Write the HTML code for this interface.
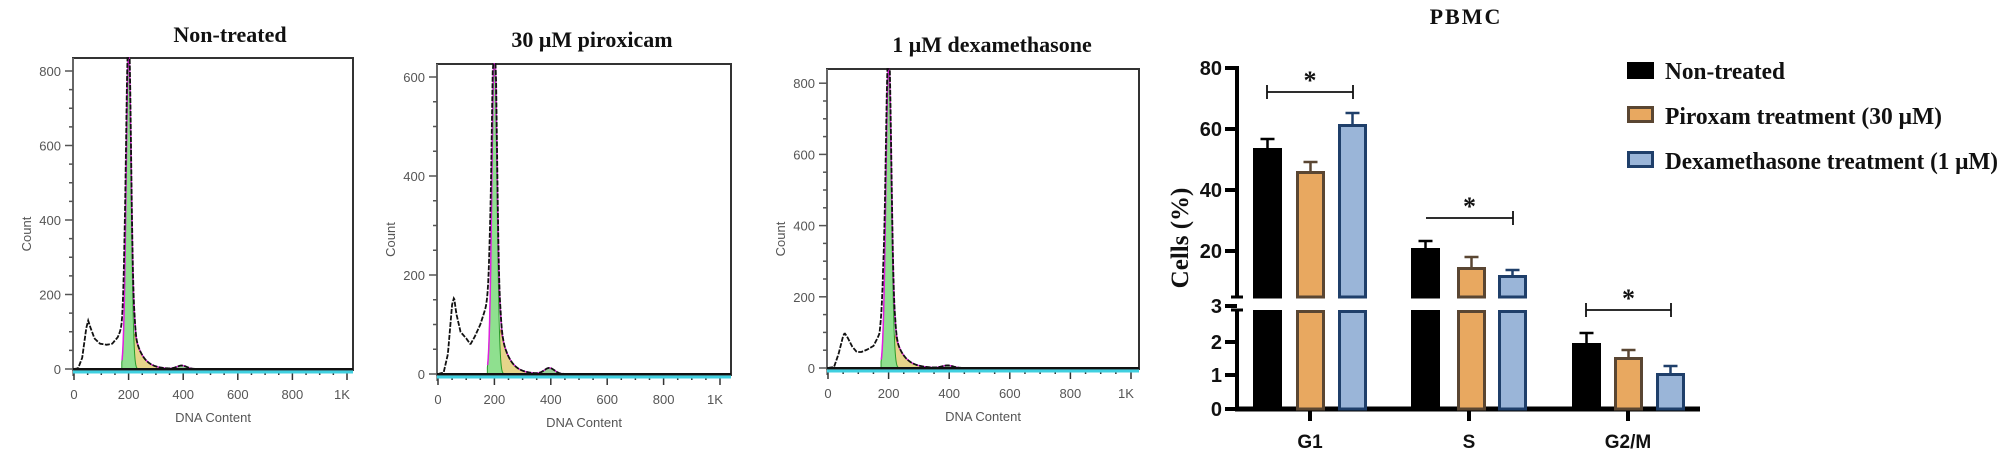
<!DOCTYPE html>
<html><head><meta charset="utf-8"><style>
html,body{margin:0;padding:0;background:#fff;}
svg{display:block;}
.t{font-family:"Liberation Serif",serif;font-weight:bold;fill:#111;}
.h{font-family:"Liberation Sans",sans-serif;fill:#555;font-size:13px;}
.b{font-family:"Liberation Sans",sans-serif;font-weight:bold;fill:#111;}
</style></head><body>
<svg id="s" width="2001" height="458" xmlns="http://www.w3.org/2000/svg">
<text class="t" x="230" y="42" font-size="22" text-anchor="middle">Non-treated</text>
<text class="t" x="592" y="47" font-size="22" text-anchor="middle">30 μM piroxicam</text>
<text class="t" x="992" y="52" font-size="22" text-anchor="middle">1 μM dexamethasone</text>
<g id="hists"></g>
<text class="t" x="1466" y="24" font-size="22" text-anchor="middle" letter-spacing="2">PBMC</text>
<text class="t" x="0" y="0" font-size="25" text-anchor="middle" transform="translate(1188,238) rotate(-90)">Cells (%)</text>
<g id="bars"></g>
<g>
<rect x="1627" y="62" width="27" height="17" fill="#000"/>
<rect x="1628.5" y="107.5" width="24" height="14" fill="#e8a860" stroke="#5a4632" stroke-width="3"/>
<rect x="1628.5" y="152.5" width="24" height="14" fill="#9ab5d8" stroke="#1f3f6a" stroke-width="3"/>
<text class="t" x="1665" y="79" font-size="24" textLength="120" lengthAdjust="spacingAndGlyphs">Non-treated</text>
<text class="t" x="1665" y="124" font-size="24" textLength="277" lengthAdjust="spacingAndGlyphs">Piroxam treatment (30 μM)</text>
<text class="t" x="1665" y="169" font-size="24" textLength="333" lengthAdjust="spacingAndGlyphs">Dexamethasone treatment (1 μM)</text>
</g>
</svg>
<script>
var NS="http://www.w3.org/2000/svg";
function el(p,tag,a,txt){var e=document.createElementNS(NS,tag);for(var k in a)e.setAttribute(k,a[k]);if(txt!=null)e.textContent=txt;p.appendChild(e);return e;}
var H=document.getElementById('hists');
function interp(pts,x){if(x<=pts[0][0])return pts[0][1];for(var i=1;i<pts.length;i++){if(x<=pts[i][0]){var a=pts[i-1],b=pts[i];return a[1]+(b[1]-a[1])*(x-a[0])/(b[0]-a[0]);}}return pts[pts.length-1][1];}
function hist(o){
 var L=o.L,R=o.R,T=o.T,B=o.B,y0=o.y0,k=o.k;
 var X=function(v){return o.x0+(v/1000)*(o.x1000-o.x0);};
 var Y=function(c){return y0-c*k;};
 function g(x,m,s){return Math.exp(-(x-m)*(x-m)/(2*s*s));}
 function G1(x){return o.pk*g(x,200,9);}
 function S(x){return x<188?0:o.sh*Math.exp(-Math.max(0,x-222)/30)*(x<222?(x-188)/34:1);}
 function G2(x){return o.g2*g(x,395,18);}
 function deb(x){return interp(o.deb,x);}
 function tot(x){return deb(x)+G1(x)+S(x)+G2(x);}
 el(H,'rect',{x:L,y:T,width:R-L,height:B-T,fill:'none',stroke:'#333','stroke-width':2});
 el(H,'line',{x1:L,y1:T,x2:L,y2:B+6,stroke:'#777','stroke-width':1.5});
 for(var c=0;c<=o.ymax;c+=o.ystep/4){var yy=Y(c);if(yy<T)break;var major=(Math.round(c)%o.ystep==0);
  el(H,'line',{x1:L-(major?8:4),y1:yy,x2:L,y2:yy,stroke:'#555','stroke-width':1.5});
  if(major)el(H,'text',{class:'h',x:L-12,y:yy+5,'text-anchor':'end'},String(c));}
 for(var v=0;v<=1000;v+=50){var xx=X(v);var major=(v%200==0);
  el(H,'line',{x1:xx,y1:B,x2:xx,y2:B+(major?10:5),stroke:'#333','stroke-width':1.5});
  if(major)el(H,'text',{class:'h',x:xx+(v==1000?-5:0),y:B+29,'text-anchor':'middle'},v==1000?'1K':String(v));}
 el(H,'text',{class:'h',x:(L+R)/2,y:B+52,'text-anchor':'middle'},'DNA Content');
 el(H,'text',{class:'h',x:0,y:0,'text-anchor':'middle',transform:'translate('+(L-42)+','+((T+B)/2+20)+') rotate(-90)'},'Count');
 var p='M'+X(175)+','+Y(0);for(var x=175;x<=240;x+=1)p+=' L'+X(x)+','+Math.max(T,Y(G1(x)));p+=' L'+X(240)+','+Y(0)+'Z';
 var s='M'+X(188)+','+Y(0);for(var x=188;x<=340;x+=2)s+=' L'+X(x)+','+Y(S(x));s+=' L'+X(340)+','+Y(0)+'Z';
 el(H,'path',{d:s,fill:'#e6d58a',stroke:'#b08a3a','stroke-width':1});
 el(H,'path',{d:p,fill:'#8fe08f',stroke:'#2a9a2a','stroke-width':1});
 var g2='M'+X(340)+','+Y(0);for(var x=340;x<=440;x+=2)g2+=' L'+X(x)+','+Y(G2(x));g2+=' L'+X(440)+','+Y(0)+'Z';
 el(H,'path',{d:g2,fill:'#9ad09a'});
 var m='';for(var x=176;x<=440;x+=1){m+=(x==176?'M':' L')+X(x)+','+Math.max(T,Y(G1(x)+S(x)+G2(x)));}
 el(H,'path',{d:m,fill:'none',stroke:'#e020e0','stroke-width':1.5});
 var d='';for(var x=0;x<=1020;x+=2){var yy=Math.max(T,Y(tot(x)));d+=(x==0?'M':' L')+X(x)+','+yy;}
 el(H,'path',{d:d,fill:'none',stroke:'#111','stroke-width':1.8,'stroke-dasharray':'5,1.5'});
 el(H,'line',{x1:L,y1:B-1,x2:R,y2:B-1,stroke:'#111','stroke-width':2});
 el(H,'line',{x1:L,y1:B+2,x2:R,y2:B+2,stroke:'#40d0e0','stroke-width':3});
}
hist({L:73,R:353,T:58,B:370,y0:369,k:0.3725,x0:74,x1000:347,ymax:800,ystep:200,pk:830,sh:95,g2:9,
 deb:[[0,0],[15,2],[30,30],[45,110],[52,130],[60,112],[75,82],[95,68],[120,65],[140,68],[160,85],[175,110],[185,150],[197,70],[212,15],[230,0]]});
hist({L:437,R:731,T:64,B:375,y0:374,k:0.495,x0:438,x1000:720,ymax:600,ystep:200,pk:630,sh:90,g2:12,
 deb:[[0,0],[20,3],[35,40],[50,140],[57,155],[65,122],[80,85],[100,72],[115,60],[130,75],[150,100],[170,135],[183,165],[197,70],[215,10],[235,0]]});
hist({L:827,R:1139,T:69,B:369,y0:368,k:0.356,x0:828,x1000:1131,ymax:800,ystep:200,pk:830,sh:90,g2:7,
 deb:[[0,0],[20,3],[35,40],[50,90],[55,98],[65,85],[80,60],[95,45],[110,45],[130,52],[150,62],[170,95],[182,170],[196,75],[214,10],[232,0]]});

var Bg=document.getElementById('bars');
var AX=1237,BASE=409,BT=297,BB=310;
el(Bg,'line',{x1:AX,y1:66,x2:AX,y2:BT,stroke:'#000','stroke-width':4});
el(Bg,'line',{x1:AX,y1:BB,x2:AX,y2:BASE+2,stroke:'#000','stroke-width':4});
el(Bg,'line',{x1:AX-6,y1:BT,x2:AX+6,y2:BT,stroke:'#000','stroke-width':3});
el(Bg,'line',{x1:AX-6,y1:BB,x2:AX+6,y2:BB,stroke:'#000','stroke-width':3});
el(Bg,'line',{x1:AX-2,y1:BASE,x2:1700,y2:BASE,stroke:'#000','stroke-width':5});
var yt=[[80,68],[60,129],[40,190],[20,251],[3,306],[2,342],[1,375],[0,409]];
yt.forEach(function(t){el(Bg,'line',{x1:AX-12,y1:t[1],x2:AX,y2:t[1],stroke:'#000','stroke-width':4});
 el(Bg,'text',{class:'b',x:AX-15,y:t[1]+7,'text-anchor':'end','font-size':20},String(t[0]));});
[[1310,'G1'],[1469,'S'],[1628,'G2/M']].forEach(function(t){el(Bg,'line',{x1:t[0],y1:BASE,x2:t[0],y2:BASE+12,stroke:'#000','stroke-width':4});
 el(Bg,'text',{class:'b',x:t[0],y:448,'text-anchor':'middle','font-size':19},t[1]);});
var sty=[{f:'#000',s:'#000'},{f:'#e8a860',s:'#5a4632'},{f:'#9ab5d8',s:'#1f3f6a'}];
var bars=[[1253,148,139,0],[1296,171,162,1],[1338,124,113,2],
 [1411,248,241,0],[1457,267,257,1],[1498,275,270,2],
 [1572,343,333,0],[1614,357,350,1],[1656,373,366,2]];
bars.forEach(function(b){var st=sty[b[3]];var w=29;
 el(Bg,'line',{x1:b[0]+w/2,y1:b[1],x2:b[0]+w/2,y2:b[2],stroke:st.s,'stroke-width':2.5});
 el(Bg,'line',{x1:b[0]+w/2-7,y1:b[2],x2:b[0]+w/2+7,y2:b[2],stroke:st.s,'stroke-width':2.5});
 function seg(y1,y2){if(y2<=y1)return;el(Bg,'rect',{x:b[0]+1.5,y:y1+1.5,width:w-3,height:y2-y1-1.5,fill:st.f,stroke:st.s,'stroke-width':3});}
 if(b[1]<BT){seg(b[1],BT);seg(BB,BASE);}else seg(b[1],BASE);
});
function sig(x1,x2,y,lt){el(Bg,'line',{x1:x1,y1:y,x2:x2,y2:y,stroke:'#111','stroke-width':1.8});
 el(Bg,'line',{x1:x2,y1:y-7,x2:x2,y2:y+7,stroke:'#111','stroke-width':1.8});
 if(lt)el(Bg,'line',{x1:x1,y1:y-7,x2:x1,y2:y+7,stroke:'#111','stroke-width':1.8});
 el(Bg,'text',{class:'t',x:(x1+x2)/2,y:y-3,'text-anchor':'middle','font-size':26},'*');}
sig(1267,1353,92,true);sig(1426,1513,218,false);sig(1586,1671,310,true);
</script>
</body></html>
